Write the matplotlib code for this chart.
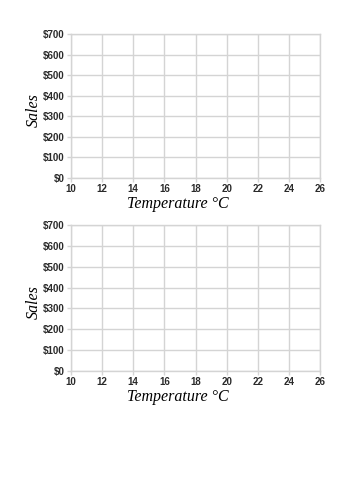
"""
Blank sales vs temperature worksheet grids (two identical panels).
"""

import matplotlib
matplotlib.use('Agg')
import matplotlib.pyplot as plt

# 坐标轴数据
temp_ticks = [10, 12, 14, 16, 18, 20, 22, 24, 26]
sales_ticks = [0, 100, 200, 300, 400, 500, 600, 700]
sales_labels = [f"${v}" for v in sales_ticks]

x_label = "Temperature \u00b0C"
y_label = "Sales"

grid_color = '#d4d4d4'


def draw_panel(ax):
    """画一个空白网格。"""
    ax.set_xlim(temp_ticks[0], temp_ticks[-1])
    ax.set_ylim(sales_ticks[0], sales_ticks[-1])
    ax.set_xticks(temp_ticks)
    ax.set_yticks(sales_ticks)
    ax.set_yticklabels(sales_labels)
    ax.grid(True, color=grid_color, linewidth=1.0)
    ax.set_axisbelow(True)
    for sp in ax.spines.values():
        sp.set_color(grid_color)
        sp.set_linewidth(1.0)
    ax.tick_params(axis='both', length=3, width=1.0, color=grid_color,
                   labelsize=7, labelcolor='#2a2a2a', pad=1.5)
    for lab in ax.get_xticklabels() + ax.get_yticklabels():
        lab.set_family('Liberation Sans')
        lab.set_weight('bold')
    ax.set_xlabel(x_label, family='Liberation Serif', style='italic',
                  fontsize=11.5, labelpad=1, x=0.43)
    ax.set_ylabel(y_label, family='Liberation Serif', style='italic',
                  fontsize=11.5, labelpad=1, y=0.47)


fig = plt.figure(figsize=(3.54, 5.0), dpi=100)
fig.patch.set_facecolor('white')

ax1 = fig.add_axes([0.2006, 0.644, 0.7034, 0.288])
ax2 = fig.add_axes([0.2006, 0.258, 0.7034, 0.292])

draw_panel(ax1)
draw_panel(ax2)

fig.savefig("out.png", dpi=100)
